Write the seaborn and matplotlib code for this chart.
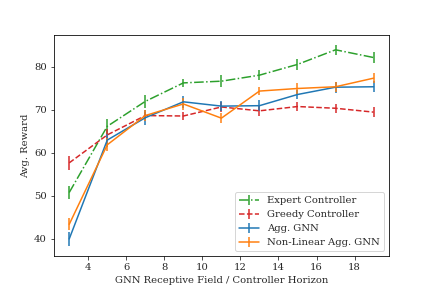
import numpy as np
import matplotlib
matplotlib.use("Agg")
import matplotlib.pyplot as plt
import seaborn as sns

# horizon values
horizon = [3, 5, 7, 9, 11, 13, 15, 17, 19]

# mean rewards
expert = [50.8, 66.2, 72.0, 76.3, 76.7, 78.1, 80.6, 84.0, 82.2]
greedy = [57.7, 64.2, 68.7, 68.6, 70.7, 69.8, 70.8, 70.4, 69.5]
agg_gnn = [40.0, 63.0, 68.2, 71.9, 70.9, 71.0, 73.6, 75.3, 75.4]
nonlin_gnn = [43.4, 61.9, 68.7, 71.4, 68.1, 74.4, 75.0, 75.4, 77.4]

# error bar half-widths
expert_err = [1.6, 1.8, 1.6, 1.0, 1.4, 1.1, 1.2, 1.2, 1.2]
greedy_err = [1.7, 1.3, 0.9, 1.0, 1.2, 1.2, 1.0, 1.0, 1.2]
agg_err = [1.7, 1.5, 1.7, 1.4, 1.2, 1.35, 1.0, 1.3, 1.3]
nonlin_err = [1.4, 1.5, 1.3, 1.4, 1.2, 1.0, 1.2, 1.2, 1.2]

sns.set_style("ticks")
plt.rcParams['font.family'] = ['DejaVu Serif']
plt.rcParams['font.size'] = 10

pal = sns.color_palette("tab10")

fig, ax = plt.subplots(figsize=(6, 4), dpi=72)
ax.errorbar(horizon, expert, yerr=expert_err, color=pal[2], linestyle='-.', label='Expert Controller')
ax.errorbar(horizon, greedy, yerr=greedy_err, color=pal[3], linestyle='--', label='Greedy Controller')
ax.errorbar(horizon, agg_gnn, yerr=agg_err, color=pal[0], linestyle='-', label='Agg. GNN')
ax.errorbar(horizon, nonlin_gnn, yerr=nonlin_err, color=pal[1], linestyle='-', label='Non-Linear Agg. GNN')

ax.set_xlabel("GNN Receptive Field / Controller Horizon")
ax.set_ylabel("Avg. Reward")
ax.legend(loc='lower right')
for s in ax.spines.values():
    s.set_visible(True)
    s.set_color('black')
    s.set_linewidth(0.8)

fig.savefig("out.png", dpi=72)
